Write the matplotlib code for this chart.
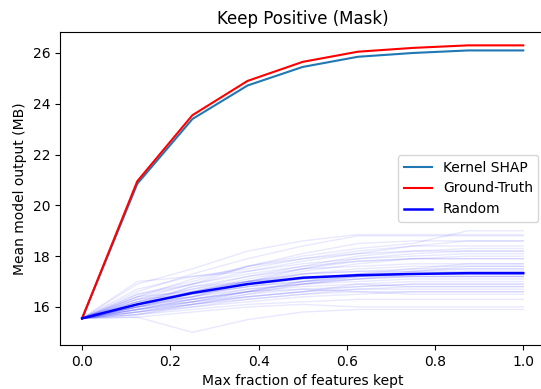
import matplotlib
matplotlib.use("Agg")
import matplotlib.pyplot as plt

# fraction of features kept
fractions = [0.0, 0.125, 0.25, 0.375, 0.5, 0.625, 0.75, 0.875, 1.0]

kernel_shap = [15.55, 20.85, 23.4, 24.72, 25.45, 25.85, 26.0, 26.1, 26.1]
ground_truth = [15.55, 20.95, 23.55, 24.9, 25.65, 26.05, 26.2, 26.3, 26.3]
random_mean = [15.55, 16.1, 16.55, 16.9, 17.15, 17.25, 17.3, 17.33, 17.33]

# individual random orderings
random_runs = [
    [15.55, 16.9, 17.5, 18.2, 18.6, 18.85, 18.85, 18.85, 18.85],
    [15.55, 16.6, 17.3, 17.9, 18.4, 18.8, 18.8, 18.8, 18.8],
    [15.55, 16.3, 16.9, 17.6, 18.0, 18.3, 18.5, 19.0, 19.0],
    [15.55, 16.2, 16.7, 17.2, 17.6, 18.0, 18.2, 18.3, 18.3],
    [15.55, 16.0, 16.4, 16.8, 17.0, 17.2, 17.3, 17.3, 17.3],
    [15.55, 15.8, 16.0, 16.2, 16.4, 16.5, 16.6, 16.6, 16.6],
    [15.55, 15.6, 15.0, 15.5, 15.8, 15.9, 15.9, 15.9, 15.9],
    [15.55, 16.1, 16.6, 17.1, 17.5, 17.6, 17.7, 17.7, 17.7],
    [15.55, 15.9, 16.2, 16.5, 16.7, 16.8, 16.9, 16.9, 16.9],
    [15.55, 16.4, 16.9, 17.3, 17.6, 17.8, 17.9, 18.0, 18.0],
    [15.55, 17.0, 17.2, 17.5, 17.9, 18.1, 18.2, 18.2, 18.2],
    [15.55, 16.5, 17.0, 17.6, 18.1, 18.5, 18.6, 18.6, 18.6],
    [15.55, 15.7, 15.9, 16.1, 16.2, 16.3, 16.3, 16.3, 16.3],
    [15.55, 16.0, 16.5, 16.8, 17.1, 17.3, 17.4, 17.5, 17.5],
    [15.55, 16.2, 16.4, 16.9, 17.3, 17.5, 17.6, 17.6, 17.6],
    [15.55, 15.9, 16.3, 16.7, 16.9, 17.0, 17.1, 17.1, 17.1],
    [15.55, 16.1, 16.8, 17.0, 17.2, 17.2, 17.2, 17.2, 17.2],
    [15.55, 15.8, 16.1, 16.4, 16.6, 16.7, 16.7, 16.7, 16.7],
    [15.55, 16.3, 16.7, 17.0, 17.4, 17.7, 17.9, 17.9, 17.9],
    [15.55, 15.7, 16.0, 16.3, 16.5, 16.6, 16.5, 16.5, 16.5],
    [15.55, 16.5, 16.9, 17.4, 17.8, 18.1, 18.4, 18.4, 18.4],
    [15.55, 15.9, 16.2, 16.4, 16.6, 16.9, 17.0, 17.0, 17.0],
    [15.55, 16.0, 16.3, 16.6, 16.8, 16.9, 16.8, 16.8, 16.8],
    [15.55, 16.2, 16.6, 17.0, 17.3, 17.4, 17.5, 17.5, 17.5],
    [15.55, 15.6, 15.8, 16.0, 16.1, 16.0, 16.0, 16.0, 16.0],
    [15.55, 16.4, 17.1, 17.6, 17.9, 18.2, 18.4, 18.6, 18.6],
    [15.55, 16.1, 16.4, 16.7, 16.9, 17.1, 17.2, 17.2, 17.2],
    [15.55, 15.8, 16.1, 16.5, 16.9, 17.1, 17.3, 17.4, 17.4],
    [15.55, 16.0, 16.6, 17.0, 17.3, 17.4, 17.4, 17.4, 17.4],
    [15.55, 16.7, 17.2, 17.4, 17.7, 17.9, 18.0, 18.1, 18.1],
    [15.55, 15.9, 16.1, 16.3, 16.5, 16.7, 16.8, 16.8, 16.8],
    [15.55, 16.3, 16.5, 16.8, 17.0, 17.1, 17.2, 17.2, 17.2],
    [15.55, 16.0, 16.2, 16.6, 17.0, 17.2, 17.4, 17.6, 17.6],
    [15.55, 15.7, 16.1, 16.4, 16.6, 16.8, 16.9, 16.9, 16.9],
    [15.55, 16.2, 16.8, 17.2, 17.5, 17.8, 17.9, 17.9, 17.9],
    [15.55, 16.1, 16.3, 16.6, 16.7, 16.6, 16.6, 16.6, 16.6],
    [15.55, 15.8, 16.2, 16.6, 17.0, 17.3, 17.5, 17.7, 17.7],
    [15.55, 16.4, 16.6, 17.0, 17.1, 17.2, 17.3, 17.3, 17.3],
    [15.55, 16.0, 16.4, 17.0, 17.5, 17.9, 18.1, 18.2, 18.2],
    [15.55, 15.9, 16.3, 16.6, 16.9, 17.2, 17.3, 17.3, 17.3],
]

fig = plt.figure(figsize=(5.41, 3.89), dpi=100)
ax = fig.add_axes([0.111, 0.113, 0.897, 0.805])

for run in random_runs:
    ax.plot(fractions, run, color="blue", alpha=0.09, linewidth=1)

ax.plot(fractions, kernel_shap, color="#1f77b4", label="Kernel SHAP")
ax.plot(fractions, ground_truth, color="red", label="Ground-Truth")
ax.plot(fractions, random_mean, color="blue", linewidth=1.8, label="Random")

ax.set_xlim(-0.05, 1.05)
ax.set_ylim(14.5, 26.83)
ax.set_xlabel("Max fraction of features kept")
ax.set_ylabel("Mean model output (MB)")
ax.set_title("Keep Positive (Mask)")
ax.legend(loc="center right")

fig.savefig("out.png", dpi=100)
